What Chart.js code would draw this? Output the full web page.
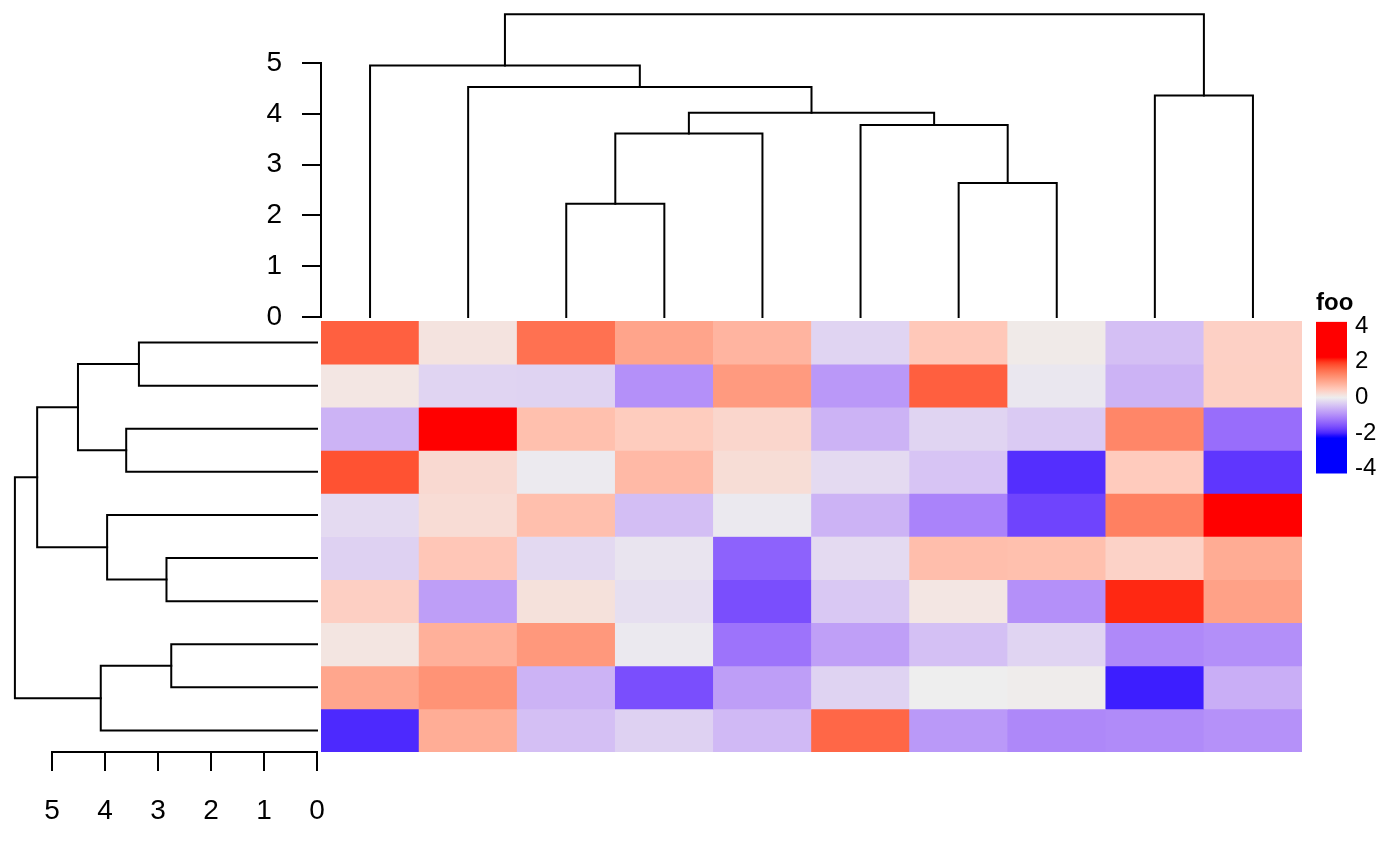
<!DOCTYPE html>
<html>
<head>
<meta charset="utf-8">
<script src="https://cdn.jsdelivr.net/npm/chart.js@4.4.1/dist/chart.umd.min.js"></script>
<style>
  body { margin: 0; background: #fff; }
  #wrap { position: relative; width: 1400px; height: 865px; overflow: hidden; }
  #wrap canvas { position: absolute; }
</style>
</head>
<body>
<div id="wrap">
  <canvas id="heat" width="981" height="431" style="left:321px;top:321px"></canvas>
  <canvas id="colDend" width="1051" height="355" style="left:251px;top:0px"></canvas>
  <canvas id="rowDend" width="357" height="521" style="left:0px;top:311px"></canvas>
  <canvas id="legend" width="84" height="216" style="left:1316px;top:280px"></canvas>
</div>
<script>
const colLabels = ['c1', 'c2', 'c3', 'c4', 'c5', 'c6', 'c7', 'c8', 'c9', 'c10'];
const rowLabels = ['r1', 'r2', 'r3', 'r4', 'r5', 'r6', 'r7', 'r8', 'r9', 'r10'];

// cell values, one array per row, in the order shown (top to bottom)
const cellValues = [
  [ 1.68,  0.14,  1.51,  0.93,  0.73, -0.27,  0.49,  0.05, -0.48,  0.38],
  [ 0.10, -0.27, -0.28, -0.97,  1.05, -0.89,  1.69, -0.07, -0.60,  0.39],
  [-0.61,  2.60,  0.59,  0.44,  0.31, -0.60, -0.26, -0.37,  1.28, -1.33],
  [ 1.81,  0.27, -0.04,  0.67,  0.22, -0.20, -0.43, -1.94,  0.45, -1.87],
  [-0.20,  0.23,  0.60, -0.49, -0.05, -0.60, -1.10, -1.74,  1.35,  2.45],
  [-0.30,  0.51, -0.21, -0.10, -1.45, -0.20,  0.61,  0.59,  0.36,  0.84],
  [ 0.40, -0.82,  0.17, -0.15, -1.65, -0.39,  0.10, -0.97,  2.09,  0.97],
  [ 0.12,  0.78,  1.08, -0.05, -1.27, -0.81, -0.47, -0.26, -1.04, -0.98],
  [ 0.91,  1.14, -0.61, -1.65, -0.82, -0.28,  0.00,  0.03, -2.06, -0.66],
  [-1.98,  0.82, -0.48, -0.30, -0.54,  1.61, -0.88, -1.05, -1.02, -0.96]
];

// dendrogram merges, hclust style: negative = leaf (1-based, display order), positive = earlier merge
const colMerges = [
  [-3, -4, 2.23], [1, -5, 3.61], [-7, -8, 2.64], [-6, 3, 3.78], [2, 4, 4.02],
  [-2, 5, 4.53], [-1, 6, 4.95], [-9, -10, 4.36], [7, 8, 5.96]
];
const rowMerges = [
  [-1, -2, 3.36], [-3, -4, 3.60], [1, 2, 4.51], [-6, -7, 2.84], [-5, 4, 3.96],
  [3, 5, 5.28], [-8, -9, 2.75], [7, -10, 4.08], [6, 8, 5.70]
];

const heightTicks = [0, 1, 2, 3, 4, 5];
const colorBreaks = [-2.2, 0, 2.2];
const colorStops = ['#0000FF', '#EEEEEE', '#FF0000'];
const legendTitle = 'foo';
const legendTicks = [-4, -2, 0, 2, 4];
const legendMin = -4.28;
const legendMax = 4.25;

const FONT = '"Liberation Sans", Arial, Helvetica, sans-serif';

// colour mapping, interpolated in LAB like colorRamp2
function toLin(c) { c /= 255; return c <= 0.04045 ? c / 12.92 : Math.pow((c + 0.055) / 1.055, 2.4); }
function toSrgb(c) {
  c = c <= 0.0031308 ? 12.92 * c : 1.055 * Math.pow(c, 1 / 2.4) - 0.055;
  return Math.round(Math.min(1, Math.max(0, c)) * 255);
}
function hexToLab(hex) {
  const r = toLin(parseInt(hex.slice(1, 3), 16));
  const g = toLin(parseInt(hex.slice(3, 5), 16));
  const b = toLin(parseInt(hex.slice(5, 7), 16));
  const X = (0.4124 * r + 0.3576 * g + 0.1805 * b) / 0.95047;
  const Y = 0.2126 * r + 0.7152 * g + 0.0722 * b;
  const Z = (0.0193 * r + 0.1192 * g + 0.9505 * b) / 1.08883;
  const f = t => t > 0.008856 ? Math.cbrt(t) : 7.787 * t + 16 / 116;
  return [116 * f(Y) - 16, 500 * (f(X) - f(Y)), 200 * (f(Y) - f(Z))];
}
function labToRgb([L, a, b]) {
  const fy = (L + 16) / 116, fx = fy + a / 500, fz = fy - b / 200;
  const inv = t => t > 0.206893 ? t * t * t : (t - 16 / 116) / 7.787;
  const X = 0.95047 * inv(fx), Y = inv(fy), Z = 1.08883 * inv(fz);
  const r = 3.2406 * X - 1.5372 * Y - 0.4986 * Z;
  const g = -0.9689 * X + 1.8758 * Y + 0.0415 * Z;
  const bl = 0.0557 * X - 0.2040 * Y + 1.0570 * Z;
  return `rgb(${toSrgb(r)}, ${toSrgb(g)}, ${toSrgb(bl)})`;
}
const labStops = colorStops.map(hexToLab);
function valueColor(v) {
  const n = colorBreaks.length;
  if (v <= colorBreaks[0]) return labToRgb(labStops[0]);
  if (v >= colorBreaks[n - 1]) return labToRgb(labStops[n - 1]);
  let i = 0;
  while (v > colorBreaks[i + 1]) i++;
  const t = (v - colorBreaks[i]) / (colorBreaks[i + 1] - colorBreaks[i]);
  const p = labStops[i], q = labStops[i + 1];
  return labToRgb([0, 1, 2].map(k => p[k] + (q[k] - p[k]) * t));
}

// U-shaped links from the merge table; a node sits midway between its children
function dendroLinks(merges) {
  const pos = [], hgt = [];
  const at = k => k < 0 ? [-k - 0.5, 0] : [pos[k - 1], hgt[k - 1]];
  return merges.map(([a, b, h]) => {
    const [pa, ha] = at(a), [pb, hb] = at(b);
    pos.push((pa + pb) / 2);
    hgt.push(h);
    return [[pa, ha], [pa, h], [pb, h], [pb, hb]];
  });
}

function linkDataset(points) {
  return {
    data: points,
    showLine: true,
    borderColor: '#000',
    borderWidth: 2,
    borderCapStyle: 'square',
    borderJoinStyle: 'miter',
    pointRadius: 0,
    clip: false
  };
}

const quiet = { legend: { display: false }, tooltip: { enabled: false } };
const axisFont = { size: 28, family: FONT };

// heatmap body
new Chart(document.getElementById('heat'), {
  type: 'bar',
  data: {
    labels: colLabels,
    datasets: cellValues.map((row, r) => ({
      label: rowLabels[r],
      data: row.map(() => [r, r + 1]),
      backgroundColor: row.map(valueColor),
      borderWidth: 0,
      grouped: false,
      barPercentage: 1,
      categoryPercentage: 1
    }))
  },
  options: {
    responsive: false,
    animation: false,
    events: [],
    layout: { padding: 0 },
    plugins: quiet,
    scales: {
      x: { display: false },
      y: { display: false, min: 0, max: rowLabels.length, reverse: true }
    }
  }
});

// column dendrogram on top
new Chart(document.getElementById('colDend'), {
  type: 'scatter',
  data: {
    datasets: dendroLinks(colMerges).map(link => linkDataset(link.map(([p, h]) => ({ x: p, y: h }))))
  },
  options: {
    responsive: false,
    animation: false,
    events: [],
    layout: { padding: { top: 63, right: 0, bottom: 38, left: 0 } },
    plugins: quiet,
    scales: {
      x: { display: false, min: 0, max: colLabels.length },
      y: {
        min: 0,
        max: 5,
        afterBuildTicks: s => { s.ticks = heightTicks.map(v => ({ value: v })); },
        afterFit: s => { s.width = 70; },
        grid: { drawOnChartArea: false, tickLength: 19, color: '#000', lineWidth: 2 },
        border: { display: true, color: '#000', width: 2 },
        ticks: { color: '#000', font: axisFont, padding: 20 }
      }
    }
  }
});

// row dendrogram on the left
new Chart(document.getElementById('rowDend'), {
  type: 'scatter',
  data: {
    datasets: dendroLinks(rowMerges).map(link => linkDataset(link.map(([p, h]) => ({ x: h, y: p }))))
  },
  options: {
    responsive: false,
    animation: false,
    events: [],
    layout: { padding: { top: 10, right: 40, bottom: 0, left: 52 } },
    plugins: quiet,
    scales: {
      y: { display: false, min: 0, max: rowLabels.length, reverse: true },
      x: {
        min: 0,
        max: 5,
        reverse: true,
        position: 'bottom',
        afterBuildTicks: s => { s.ticks = heightTicks.map(v => ({ value: v })); },
        afterFit: s => { s.height = 80; },
        grid: { drawOnChartArea: false, tickLength: 19, color: '#000', lineWidth: 2 },
        border: { display: true, color: '#000', width: 2 },
        ticks: { color: '#000', font: axisFont, padding: 23, maxRotation: 0 }
      }
    }
  }
});

// colour legend
new Chart(document.getElementById('legend'), {
  type: 'bar',
  data: {
    labels: [legendTitle],
    datasets: [{
      data: [[legendMin, legendMax]],
      backgroundColor: c => {
        const chart = c.chart;
        if (!chart.chartArea) return valueColor(0);
        const y = chart.scales.y;
        const g = chart.ctx.createLinearGradient(0, y.getPixelForValue(legendMin), 0, y.getPixelForValue(legendMax));
        const steps = 60;
        for (let i = 0; i <= steps; i++) {
          g.addColorStop(i / steps, valueColor(legendMin + (legendMax - legendMin) * i / steps));
        }
        return g;
      },
      borderWidth: 0,
      barPercentage: 1,
      categoryPercentage: 1
    }]
  },
  options: {
    responsive: false,
    animation: false,
    events: [],
    layout: { padding: { top: 0, right: 0, bottom: 21, left: 0 } },
    plugins: {
      legend: { display: false },
      tooltip: { enabled: false },
      title: {
        display: true,
        text: legendTitle,
        align: 'start',
        color: '#000',
        font: { size: 24, weight: 'bold', family: FONT, lineHeight: 1.2 },
        padding: { top: 9, bottom: 4 }
      }
    },
    scales: {
      x: { display: false },
      y: {
        position: 'right',
        min: legendMin,
        max: legendMax,
        z: 1,
        afterBuildTicks: s => { s.ticks = legendTicks.map(v => ({ value: v })); },
        afterFit: s => { s.width = 53; },
        grid: { drawTicks: false, color: '#fff', lineWidth: 1.5 },
        border: { display: false, dash: [7, 17] },
        ticks: { color: '#000', font: { size: 24, family: FONT }, padding: 8 }
      }
    }
  }
});
</script>
</body>
</html>
